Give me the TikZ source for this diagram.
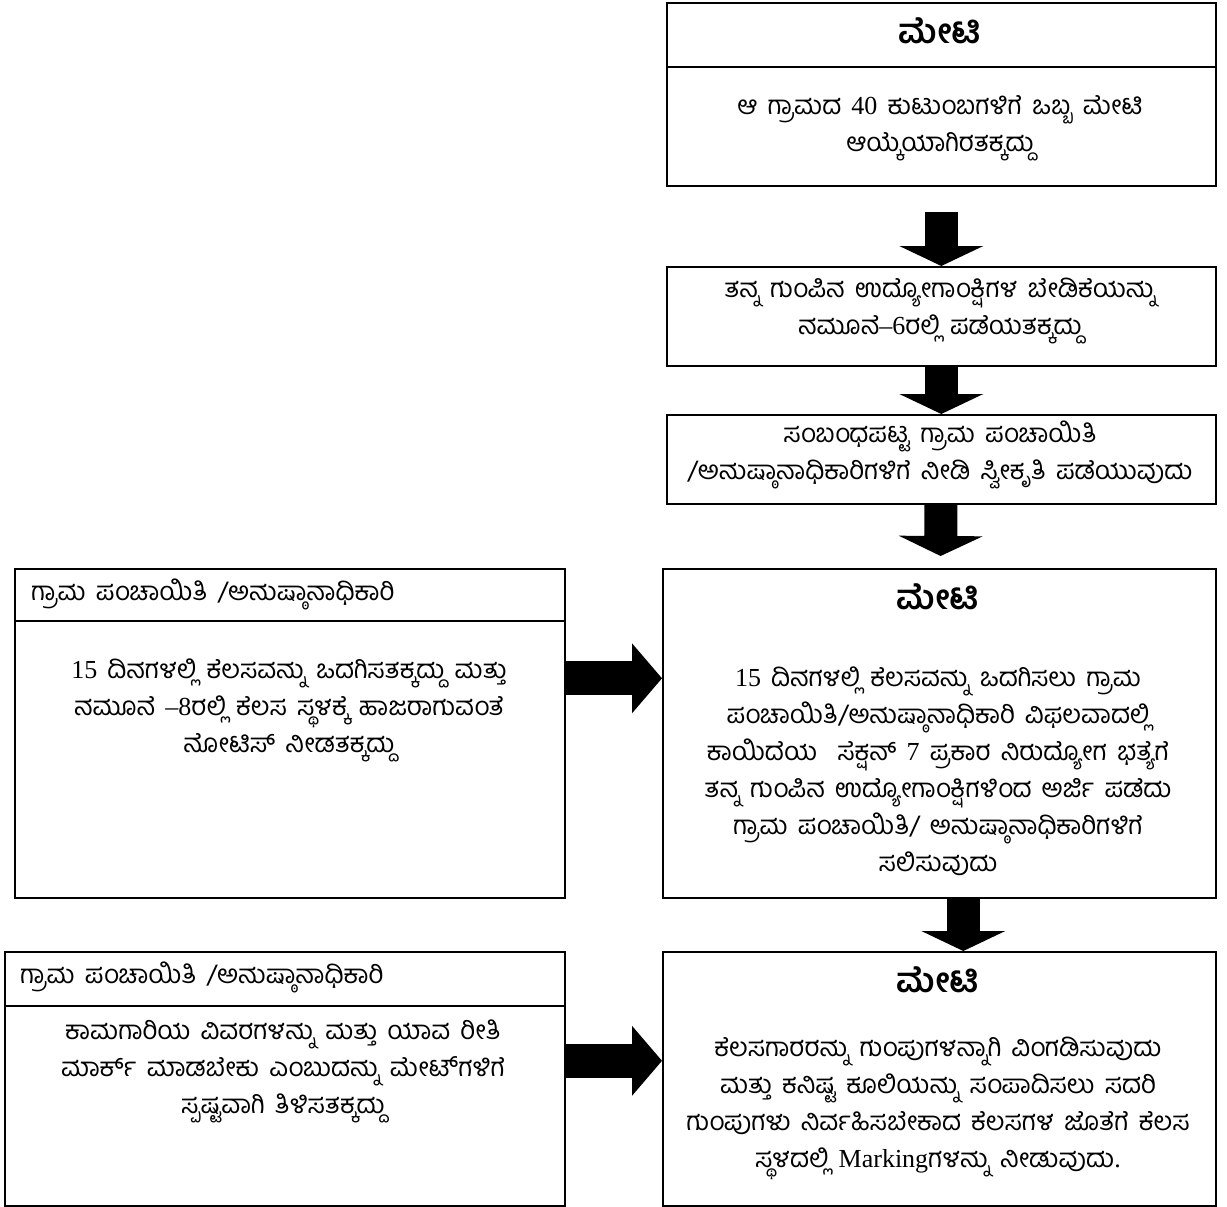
\documentclass[tikz,border=0pt]{standalone}
\usepackage{fontspec}
\setmainfont{Liberation Serif}
\newfontfamily\kn[Script=Kannada, WordSpace=1.6]{Hind Mysuru}
\usetikzlibrary{positioning,arrows.meta}
\newcommand{\latn}[1]{{\rmfamily #1}}

\tikzset{
  box/.style={draw, line width=1.6pt, inner sep=0pt, minimum width=549pt},
  txt/.style={align=center, inner sep=0pt, font=\kn\fontsize{26}{37}\selectfont},
  head/.style={anchor=west, inner sep=0pt, font=\kn\fontsize{26}{30}\selectfont},
  ttl/.style={inner sep=0pt, font=\kn\bfseries\fontsize{34}{40}\selectfont},
  varrow/.style={line width=33pt, -{Triangle[length=20pt,width=84pt,line width=0pt]}},
  harrow/.style={line width=34pt, -{Triangle[length=30pt,width=70pt,line width=0pt]}},
}

\begin{document}
\begin{tikzpicture}[x=1pt, y=-1pt]
    \useasboundingbox (0,0) rectangle (1227,1207);

    % right column
    \node [box, minimum height=183pt, anchor=north west] (m1) at (666,2) {};
    \node [box, minimum height=99pt, below=79.4pt of m1] (m2) {};
    \node [box, minimum height=89pt, below=47.4pt of m2] (m3) {};
    \node [box, minimum height=329pt, minimum width=553pt, below=63.4pt of m3, xshift=-2pt] (m4) {};
    \node [box, minimum height=254pt, minimum width=553pt, below=52.4pt of m4] (m5) {};

    % left column
    \node [box, minimum height=329pt, minimum width=550pt, left=96.4pt of m4] (l1) {};
    \node [box, minimum height=254pt, minimum width=560pt, left=96.4pt of m5] (l2) {};

    \draw [line width=1.6pt] ([yshift=-65pt]m1.north west) -- ([yshift=-65pt]m1.north east);
    \draw [line width=1.6pt] ([yshift=-53pt]l1.north west) -- ([yshift=-53pt]l1.north east);
    \draw [line width=1.6pt] ([yshift=-55pt]l2.north west) -- ([yshift=-55pt]l2.north east);

    \node [ttl] (t1) at (940,31) {ಮೇಟಿ};
    \node [txt] (b1) at (940,128) {ಆ ಗ್ರಾಮದ \latn{40} ಕುಟುಂಬಗಳಿಗೆ ಒಬ್ಬ ಮೇಟಿ\\ ಆಯ್ಕೆಯಾಗಿರತಕ್ಕದ್ದು};
    \node [txt] (b2) at (940,311) {ತನ್ನ ಗುಂಪಿನ ಉದ್ಯೋಗಾಂಕ್ಷಿಗಳ ಬೇಡಿಕೆಯನ್ನು\\ ನಮೂನೆ\latn{–6}ರಲ್ಲಿ ಪಡೆಯತಕ್ಕದ್ದು};
    \node [txt] (b3) at (940,455) {ಸಂಬಂಧಪಟ್ಟ ಗ್ರಾಮ ಪಂಚಾಯಿತಿ\\ /ಅನುಷ್ಠಾನಾಧಿಕಾರಿಗಳಿಗೆ ನೀಡಿ ಸ್ವೀಕೃತಿ ಪಡೆಯುವುದು};

    \node [ttl] (t4) at (938,597) {ಮೇಟಿ};
    \node [txt] (b4) at (938,771) {\latn{15} ದಿನಗಳಲ್ಲಿ ಕೆಲಸವನ್ನು ಒದಗಿಸಲು ಗ್ರಾಮ\\ ಪಂಚಾಯಿತಿ/ಅನುಷ್ಠಾನಾಧಿಕಾರಿ ವಿಫಲವಾದಲ್ಲಿ\\ ಕಾಯಿದೆಯ\ \ ಸೆಕ್ಷನ್ \latn{7} ಪ್ರಕಾರ ನಿರುದ್ಯೋಗ ಭತ್ಯೆಗೆ\\ ತನ್ನ ಗುಂಪಿನ ಉದ್ಯೋಗಾಂಕ್ಷಿಗಳಿಂದ ಅರ್ಜಿ ಪಡೆದು\\ ಗ್ರಾಮ ಪಂಚಾಯಿತಿ/ ಅನುಷ್ಠಾನಾಧಿಕಾರಿಗಳಿಗೆ\\ ಸಲಿಸುವುದು};

    \node [ttl] (t5) at (938,980) {ಮೇಟಿ};
    \node [txt] (b5) at (938,1108) {ಕೆಲಸಗಾರರನ್ನು ಗುಂಪುಗಳನ್ನಾಗಿ ವಿಂಗಡಿಸುವುದು\\ ಮತ್ತು ಕನಿಷ್ಟ ಕೂಲಿಯನ್ನು ಸಂಪಾದಿಸಲು ಸದರಿ\\ ಗುಂಪುಗಳು ನಿರ್ವಹಿಸಬೇಕಾದ ಕೆಲಸಗಳ ಜೊತೆಗೆ ಕೆಲಸ\\ ಸ್ಥಳದಲ್ಲಿ \latn{Marking}ಗಳನ್ನು ನೀಡುವುದು\latn{.}};

    \node [head] (h1) at (31,594) {ಗ್ರಾಮ ಪಂಚಾಯಿತಿ /ಅನುಷ್ಠಾನಾಧಿಕಾರಿ};
    \node [txt] (c1) at (289,710) {\latn{15} ದಿನಗಳಲ್ಲಿ ಕೆಲಸವನ್ನು ಒದಗಿಸತಕ್ಕದ್ದು ಮತ್ತು\\ ನಮೂನೆ \latn{–8}ರಲ್ಲಿ ಕೆಲಸ ಸ್ಥಳಕ್ಕೆ ಹಾಜರಾಗುವಂತೆ\\ ನೋಟಿಸ್ ನೀಡತಕ್ಕದ್ದು};

    \node [head] (h2) at (20,977) {ಗ್ರಾಮ ಪಂಚಾಯಿತಿ /ಅನುಷ್ಠಾನಾಧಿಕಾರಿ};
    \node [txt] (c2) at (283,1071) {ಕಾಮಗಾರಿಯ ವಿವರಗಳನ್ನು ಮತ್ತು ಯಾವ ರೀತಿ\\ ಮಾರ್ಕ್ ಮಾಡಬೇಕು ಎಂಬುದನ್ನು ಮೇಟ್^^^^200cಗಳಿಗೆ\\ ಸ್ಪಷ್ಟವಾಗಿ ತಿಳಿಸತಕ್ಕದ್ದು};

    \draw [varrow, shorten <=25pt] (m1) -- (m2);
    \draw [varrow] (m2) -- (m3);
    \draw [varrow, shorten >=12pt] (m3) -- (m4);
    \draw [varrow] ([xshift=24pt]m4.south) -- ([xshift=24pt]m5.north);
    \draw [harrow] ([yshift=55pt]l1.east) -- ([yshift=55pt]m4.west);
    \draw [harrow] ([yshift=18pt]l2.east) -- ([yshift=18pt]m5.west);
\end{tikzpicture}
\end{document}
